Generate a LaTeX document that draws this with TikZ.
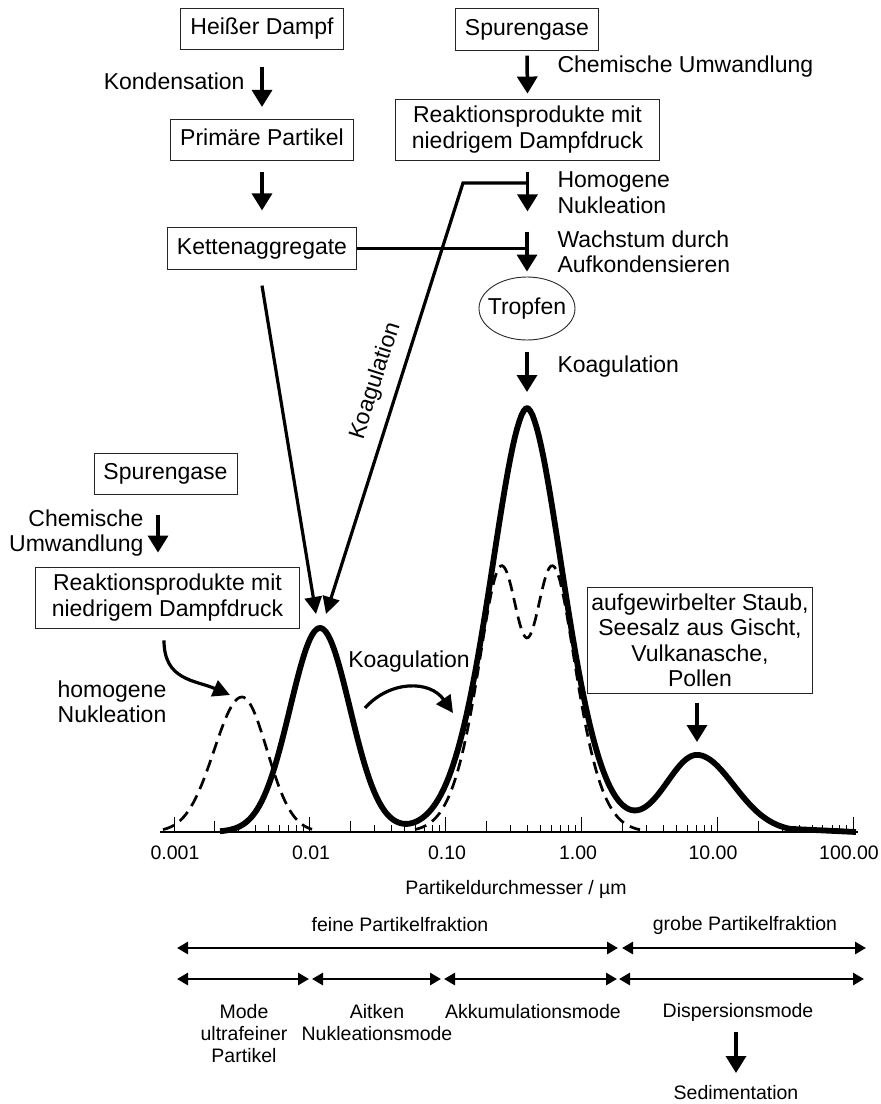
\documentclass[tikz,border=0pt]{standalone}
\usepackage{fontspec}
\setmainfont{Liberation Sans}
\usepackage{tikz}
\usetikzlibrary{positioning,shapes.geometric,arrows.meta}
\tikzstyle{box}=[rectangle, draw=black!85, line width=0.9pt, text centered, text height=16.5pt, text depth=4.8pt, inner xsep=9.5pt, inner ysep=10pt]
\tikzstyle{boxMulti}=[rectangle, draw=black!85, line width=0.9pt, align=center, inner xsep=16pt, inner ysep=7pt]
\tikzstyle{boxSource}=[rectangle, draw=black!85, line width=0.9pt, align=center, inner xsep=3.5pt, inner ysep=6.5pt]
\tikzstyle{flow}=[line width=3.5pt, ->]
\tikzstyle{diagArrow}=[line width=3.2pt, -{Triangle[width=17pt,length=17pt]}]
\tikzstyle{joinLine}=[line width=3pt]
\tikzstyle{curveSolid}=[line width=5.8pt, line join=round]
\tikzstyle{curveDashed}=[line width=2.7pt, dash pattern=on 12pt off 7pt]
\tikzstyle{spanArrow}=[line width=2.8pt, >={Triangle[width=12pt,length=11pt]}, <->]
\tikzstyle{smallText}=[font=\fontsize{19.5}{22}\selectfont]
\tikzset{>={Triangle[width=20pt,length=17pt]}}

\begin{document}
\begin{tikzpicture}[x=1pt, y=-1pt,
    every node/.style={font=\fontsize{23}{25.5}\selectfont},
    declare function={gauss(\xv,\xm,\xw)=exp(-1*((\xv-\xm)/\xw)*((\xv-\xm)/\xw));
                      peak(\xv,\xm,\xw)=exp(-1*(((abs(\xv-\xm)+0.01)/\xw)^1.8));}]
    \useasboundingbox (0,0) rectangle (881,1104);

        % left column
        \node (hotVapour)[box] at (262,29) {Heißer Dampf};
        \node (primary)[box] at (262,140) {Primäre Partikel};
        \node (chains)[box] at (262,248.5) {Kettenaggregate};
        \node (condLabel)[anchor=east] at (248,81) {Kondensation};
        \draw [flow] ([yshift=-17pt]hotVapour.south) -- ([yshift=12pt]primary.north);
        \draw [flow] ([yshift=-11pt]primary.south) -- ([yshift=17pt]chains.north);

        % right column
        \node (gasesTop)[box] at (527,29.5) {Spurengase};
        \node (productsTop)[boxMulti] at (527.5,129.5) {Reaktionsprodukte mit\\niedrigem Dampfdruck};
        \node (drop)[ellipse, draw=black!85, line width=0.9pt, inner xsep=-10pt, inner ysep=0pt, minimum width=96pt, minimum height=63pt] at (527,308.5) {Tropfen};
        \coordinate (accuTop) at (527,408);
        \node (chemLabelTop)[anchor=west] at (554,67) {Chemische Umwandlung};
        \node (nuclLabel)[anchor=west, align=left] at (554,192.5) {Homogene\\Nukleation};
        \node (growLabel)[anchor=west, align=left] at (554,252) {Wachstum durch\\Aufkondensieren};
        \node (coagLabelTop)[anchor=west] at (554,367) {Koagulation};

        \coordinate (nuclStart) at ([yshift=-12pt]productsTop.south);
        \coordinate (growStart) at ([yshift=45pt]drop.north);
        \draw [flow] ([yshift=-5pt]gasesTop.south) -- ([yshift=5pt]productsTop.north);
        \draw [flow] (nuclStart) -- ([yshift=-51pt]productsTop.south);
        \draw [flow] (growStart) -- ([yshift=5pt]drop.north);
        \draw [flow] ([yshift=-12pt]drop.south) -- ([yshift=16pt]accuTop);
        \draw [joinLine] (chains.east) -- (chains.east -| growStart);

        % coagulation into the Aitken mode
        \coordinate (coagKnee) at (463,183);
        \coordinate (aitkenTipL) at (316,614);
        \coordinate (aitkenTipR) at (326,614);
        \draw [diagArrow] (coagKnee -| nuclStart) -- (coagKnee) -- (aitkenTipR);
        \draw [diagArrow] ([yshift=-16pt]chains.south) -- (aitkenTipL);
        \node (coagSlope)[rotate=72.4, inner sep=1pt] at (376,381) {Koagulation};

        % lower left
        \node (gasesLow)[box] at (165.5,474) {Spurengase};
        \node (productsLow)[boxMulti] at (167.5,597.5) {Reaktionsprodukte mit\\niedrigem Dampfdruck};
        \node (chemLabelLow)[anchor=east, align=right] at (147,533) {Chemische\\Umwandlung};
        \draw [flow] ([xshift=-7.5pt,yshift=-20pt]gasesLow.south) -- ([xshift=-9.5pt,yshift=14pt]productsLow.north);
        \coordinate (nuclPeak) at (230,695);
        \draw [diagArrow] ([xshift=-3.5pt,yshift=-12pt]productsLow.south) .. controls +(0,40) and +(-35,-15) .. (nuclPeak);
        \node (homNucl)[align=center] at (112,702) {homogene\\Nukleation};

        % middle coagulation
        \node (coagMid) at (409,662) {Koagulation};
        \coordinate (coagFrom) at (365,708);
        \coordinate (coagTo) at (453,713);
        \draw [diagArrow] (coagFrom) .. controls (390,680) and (430,680) .. (coagTo);

        % coarse sources
        \node (coarseSrc)[boxSource] at (700,640.5) {aufgewirbelter Staub,\\Seesalz aus Gischt,\\Vulkanasche,\\Pollen};
        \coordinate (coarsePeak) at (697,755);
        \draw [flow] ([xshift=-3pt,yshift=-9pt]coarseSrc.south) -- ([yshift=13pt]coarsePeak);

        % axis
        \draw [line width=1.3pt] (160,832) -- (858,832);
        \foreach \k in {0,...,5}{
            \draw [line width=1pt] ({174+135.8*\k},832) -- ++(0,-15);
        };
        \foreach \k in {0,...,4}{
            \foreach \m in {2,...,9}{
                \draw [line width=0.9pt] ({174+135.8*(\k+log10(\m))},832) -- ++(0,{-7-4*(\m==2)});
            };
        };
        \foreach \lab/\xpos [count=\i] in {0.001/175, 0.01/311, 0.10/447, 1.00/578, 10.00/713, 100.00/849}{
            \node (tick\i)[font=\fontsize{19.5}{22}\selectfont] at (\xpos,853) {\lab};
        };
        \node (axisLabel)[smallText] at (516,889) {Partikeldurchmesser / µm};

        % size distributions
        \draw [curveDashed] plot[domain=163:312, samples=80] (\x, {832-135*gauss(\x,242,39.4-4*(\x>242))});
        \draw [curveDashed] plot[domain=415:640, samples=130] (\x, {832-440*gauss(\x,527,49.3)+246*gauss(\x,527,22.8)});
        \draw [curveSolid] plot[domain=220:790, samples=260] (\x, {832-204*gauss(\x,320,42.4)-424*peak(\x,527,52.6)-77*gauss(\x,697,44+8*(\x>697))}) -- (856,832);

        % fractions and modes
        \node (fineLabel)[smallText] at (400,925) {feine Partikelfraktion};
        \node (coarseLabel)[smallText] at (745,925) {grobe Partikelfraktion};
        \draw [spanArrow] (177,948) -- (618,948);
        \draw [spanArrow] (622,948) -- (866,948);
        \foreach \a/\b in {177/309, 312/441, 444/617, 619/864}{
            \draw [spanArrow] (\a,979) -- (\b,979);
        };
        \node (ultrafineLabel)[smallText, align=center] at (244,1034) {Mode\\ultrafeiner\\Partikel};
        \node (aitkenLabel)[smallText, align=center] at (377,1022.5) {Aitken\\Nukleationsmode};
        \node (accuLabel)[smallText] at (533,1012) {Akkumulationsmode};
        \node (dispLabel)[smallText] at (738,1012) {Dispersionsmode};
        \node (sedLabel)[smallText] at (736,1093) {Sedimentation};
        \coordinate (sedStart) at (736,1032);
        \coordinate (sedEnd) at (736,1073);
        \draw [flow] (sedStart) -- (sedEnd);

    \end{tikzpicture}
\end{document}
